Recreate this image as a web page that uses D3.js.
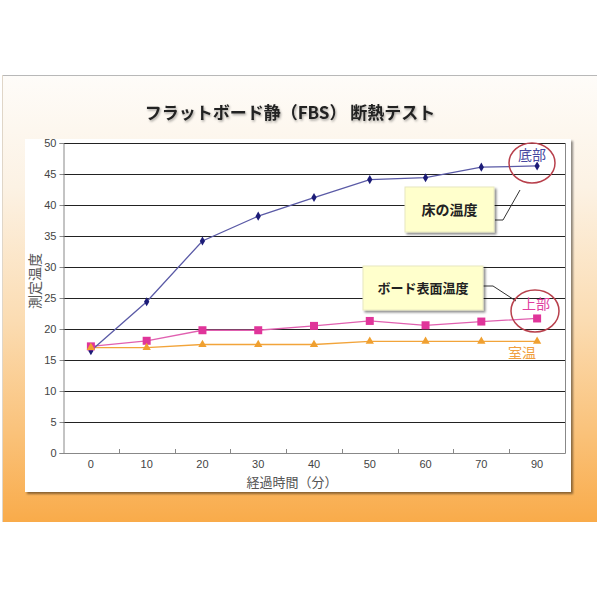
<!DOCTYPE html>
<html><head><meta charset="utf-8">
<script src="https://cdn.jsdelivr.net/npm/d3@7"></script>
<style>body{margin:0;background:#fff;} svg{display:block;}</style>
</head><body>
<script>
const categories = ["0","10","20","30","40","50","60","70","90"];
const bottomTemp = [16.5, 24.4, 34.2, 38.2, 41.2, 44.1, 44.4, 46.1, 46.3];   // 底部
const surfaceTemp = [17.2, 18.1, 19.8, 19.8, 20.5, 21.3, 20.6, 21.2, 21.7];  // 上部
const roomTemp = [17.0, 17.0, 17.5, 17.5, 17.5, 18.0, 18.0, 18.0, 18.0];     // 室温
const yTicks = [0,5,10,15,20,25,30,35,40,45,50];
const titleText = "フラットボード静（FBS） 断熱テスト";

const W = 600, H = 600;
const svg = d3.select("body").append("svg").attr("width", W).attr("height", H);
const defs = svg.append("defs");
const g1 = defs.append("linearGradient").attr("id","bg").attr("x1",0).attr("y1",0).attr("x2",0).attr("y2",1);
[[0,"#fefcf9"],[0.25,"#fcf2e4"],[0.55,"#fbdcb2"],[0.8,"#fac27a"],[1,"#f9ab4a"]].forEach(s=>g1.append("stop").attr("offset",s[0]).attr("stop-color",s[1]));
const f = defs.append("filter").attr("id","sh").attr("x","-10%").attr("y","-10%").attr("width","130%").attr("height","130%");
f.append("feDropShadow").attr("dx",2).attr("dy",2).attr("stdDeviation",1.2).attr("flood-color","#000").attr("flood-opacity",0.45);
const ft = defs.append("filter").attr("id","tsh").attr("x","-5%").attr("y","-20%").attr("width","110%").attr("height","150%");
ft.append("feDropShadow").attr("dx",1).attr("dy",1.5).attr("stdDeviation",1).attr("flood-color","#000").attr("flood-opacity",0.35);

// outer panel
svg.append("rect").attr("x",2).attr("y",75).attr("width",595).attr("height",447).attr("fill","url(#bg)");
svg.append("line").attr("x1",2).attr("x2",597).attr("y1",75.5).attr("y2",75.5).attr("stroke","#b8b8b8");
svg.append("line").attr("x1",2.5).attr("x2",2.5).attr("y1",75).attr("y2",522).attr("stroke","#e0d6c8");

// title
svg.append("text").attr("x",290).attr("y",119).attr("text-anchor","middle")
  .attr("font-family","'Noto Sans CJK JP', sans-serif").attr("font-weight","bold").attr("font-size",17)
  .attr("fill","#222").attr("filter","url(#tsh)").text(titleText);

// white chart panel
svg.append("rect").attr("x",25).attr("y",139).attr("width",546).attr("height",353).attr("fill","#fff").attr("filter","url(#sh)");

const m = {l:63, r:565, t:143, b:453};
const x = d3.scaleBand().domain(categories).range([m.l, m.r]);
const y = d3.scaleLinear().domain([0,50]).range([m.b, m.t]);

// gridlines
svg.append("g").selectAll("line").data(yTicks.filter(d=>d>0)).join("line")
  .attr("x1",m.l).attr("x2",m.r).attr("y1",d=>Math.round(y(d))+0.5).attr("y2",d=>Math.round(y(d))+0.5)
  .attr("stroke","#222").attr("stroke-width",1);

// y axis
const ya = svg.append("g").attr("transform",`translate(${m.l+0.5},0)`)
  .call(d3.axisLeft(y).tickValues(yTicks).tickSize(4).tickPadding(3));
ya.select(".domain").attr("stroke","#888");
ya.selectAll(".tick line").attr("stroke","#888");
ya.selectAll("text").attr("font-family","Arial, 'Liberation Sans', sans-serif").attr("font-size",11).attr("fill","#444");

// x axis
const xa = svg.append("g").attr("transform",`translate(0,${m.b+0.5})`)
  .call(d3.axisBottom(x).tickSize(0).tickPadding(7));
xa.select(".domain").remove();
xa.selectAll("text").attr("font-family","Arial, 'Liberation Sans', sans-serif").attr("font-size",11).attr("fill","#444");
svg.append("line").attr("x1",m.l).attr("x2",m.r+0.5).attr("y1",m.b+0.5).attr("y2",m.b+0.5).attr("stroke","#888");
svg.append("line").attr("x1",m.r+0.5).attr("x2",m.r+0.5).attr("y1",m.t).attr("y2",m.b+0.5).attr("stroke","#888");
svg.append("g").selectAll("line").data(categories.slice(1)).join("line")
  .attr("x1",d=>Math.round(x(d))+0.5).attr("x2",d=>Math.round(x(d))+0.5)
  .attr("y1",m.b).attr("y2",m.b-4).attr("stroke","#888");

// axis titles
svg.append("text").attr("x",292).attr("y",487).attr("text-anchor","middle")
  .attr("font-family","'Noto Sans CJK JP', sans-serif").attr("font-size",13).attr("fill","#555").text("経過時間（分）");
svg.append("text").attr("transform","translate(40,281) rotate(-90)").attr("text-anchor","middle")
  .attr("font-family","'Noto Sans CJK JP', sans-serif").attr("font-size",14).attr("fill","#555").text("測定温度");

const cx = d => x(d) + x.bandwidth()/2;
const line = d3.line().x(d=>cx(d[0])).y(d=>y(d[1]));
function series(vals, lineColor){
  const pts = categories.map((c,i)=>[c, vals[i]]);
  svg.append("path").datum(pts).attr("d",line).attr("fill","none").attr("stroke",lineColor).attr("stroke-width",1.3);
  return pts;
}
const pOrange = series(roomTemp, "#f2a43a");
const pPink = series(surfaceTemp, "#e060b0");
const pNavy = series(bottomTemp, "#5a5aa6");

svg.append("g").selectAll("path").data(pNavy).join("path")
  .attr("d", d3.symbol(d3.symbolDiamond, 24)).attr("transform",d=>`translate(${cx(d[0])},${y(d[1])})`).attr("fill","#1c1c78");
svg.append("g").selectAll("rect").data(pPink).join("rect")
  .attr("x",d=>cx(d[0])-4).attr("y",d=>y(d[1])-4).attr("width",8).attr("height",8).attr("fill","#e0359a");
svg.append("g").selectAll("path").data(pOrange).join("path")
  .attr("d", d3.symbol(d3.symbolTriangle, 30)).attr("transform",d=>`translate(${cx(d[0])},${y(d[1])})`).attr("fill","#f0a030");

// annotations
const jp = "'Noto Sans CJK JP', sans-serif";
svg.append("polyline").attr("points","495,220 503,220 520,190").attr("fill","none").attr("stroke","#333").attr("stroke-width",1);
svg.append("polyline").attr("points","483,286 493,286 516,301").attr("fill","none").attr("stroke","#333").attr("stroke-width",1);
svg.append("rect").attr("x",405).attr("y",187).attr("width",89).attr("height",45).attr("fill","#ffffcc").attr("stroke","#e8e8c0").attr("filter","url(#sh)");
svg.append("text").attr("x",449.5).attr("y",215).attr("text-anchor","middle").attr("font-family",jp).attr("font-weight","bold").attr("font-size",14).attr("fill","#222").text("床の温度");
svg.append("rect").attr("x",363).attr("y",266).attr("width",120).attr("height",44).attr("fill","#ffffcc").attr("stroke","#e8e8c0").attr("filter","url(#sh)");
svg.append("text").attr("x",423).attr("y",293).attr("text-anchor","middle").attr("font-family",jp).attr("font-weight","bold").attr("font-size",13).attr("fill","#222").text("ボード表面温度");

svg.append("ellipse").attr("cx",532).attr("cy",163).attr("rx",23).attr("ry",20).attr("fill","none").attr("stroke","#b8404c").attr("stroke-width",1.5);
svg.append("ellipse").attr("cx",535).attr("cy",311).attr("rx",24).attr("ry",21).attr("fill","none").attr("stroke","#b8404c").attr("stroke-width",1.5);

svg.append("text").attr("x",532).attr("y",160).attr("text-anchor","middle").attr("font-family",jp).attr("font-size",14).attr("fill","#4848a0").text("底部");
svg.append("text").attr("x",536).attr("y",309).attr("text-anchor","middle").attr("font-family",jp).attr("font-size",14).attr("fill","#e040a0").text("上部");
svg.append("text").attr("x",522).attr("y",358).attr("text-anchor","middle").attr("font-family",jp).attr("font-size",14).attr("fill","#f0a040").text("室温");
</script>
</body></html>
